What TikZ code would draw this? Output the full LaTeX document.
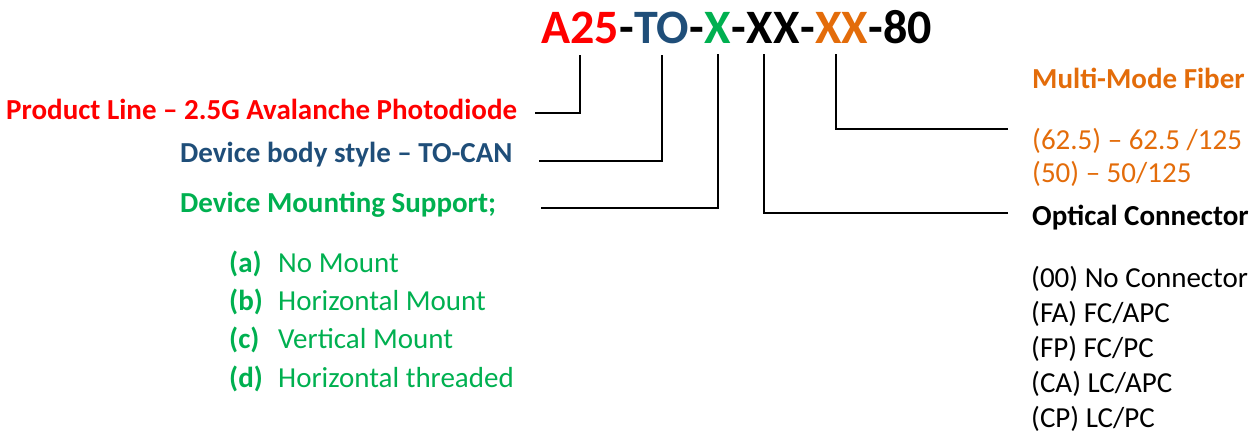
\documentclass[tikz,border=0pt]{standalone}
\usepackage{fontspec}
\setmainfont{Carlito}
\usepackage{xcolor}
\usepackage{tikz}
\usetikzlibrary{positioning}
\definecolor{codered}{HTML}{FF0000}
\definecolor{codeblue}{HTML}{1F4E79}
\definecolor{codegreen}{HTML}{00B050}
\definecolor{codeorange}{HTML}{E36C0A}
\newcommand{\lblsize}{\fontsize{29}{35}\selectfont}

\begin{document}
\begin{tikzpicture}[x=1pt,y=-1pt,
    seg/.style={inner sep=0pt,font=\fontsize{48}{56}\selectfont\bfseries},
    lbl/.style={inner sep=0pt,anchor=base west,font=\lblsize},
    lead/.style={line width=1.8pt,shorten >=11pt}]
  \useasboundingbox (0,0) rectangle (1257,439);
  % part number, one node per field
  \node[seg,anchor=base west,text=codered] (cA) at (541,43) {A25};
  \node[seg,base right=0pt of cA] (d1) {-};
  \node[seg,base right=0pt of d1,text=codeblue] (cTO) {TO};
  \node[seg,base right=0pt of cTO] (d2) {-};
  \node[seg,base right=0pt of d2,text=codegreen] (cX) {X};
  \node[seg,base right=0pt of cX] (d3) {-};
  \node[seg,base right=0pt of d3] (cXX) {XX};
  \node[seg,base right=0pt of cXX] (d4) {-};
  \node[seg,base right=0pt of d4,text=codeorange] (cFib) {XX};
  \node[seg,base right=0pt of cFib] (d5) {-};
  \node[seg,base right=0pt of d5] (c80) {80};
  % left side
  \node[lbl,text=codered,font=\lblsize\bfseries] (pl) at (6,119)
    {Product Line – 2.5G Avalanche Photodiode};
  \node[lbl,text=codeblue,font=\lblsize\bfseries] (body) at (180,162)
    {Device body style – TO-CAN};
  \node[lbl,text=codegreen,font=\lblsize\bfseries] (mnt) at (180,212)
    {Device Mounting Support;};
  \node[lbl,text=codegreen] (mtA) at (229,272) {\makebox[49pt][l]{\bfseries(a)}No Mount};
  \node[lbl,text=codegreen] (mtB) at (229,310) {\makebox[49pt][l]{\bfseries(b)}Horizontal Mount};
  \node[lbl,text=codegreen] (mtC) at (229,348) {\makebox[49pt][l]{\bfseries(c)}Vertical Mount};
  \node[lbl,text=codegreen] (mtD) at (229,387) {\makebox[49pt][l]{\bfseries(d)}Horizontal threaded};
  % right side
  \node[lbl,text=codeorange,font=\lblsize\bfseries] (fib) at (1032,88) {Multi-Mode Fiber};
  \node[lbl,text=codeorange] (fibA) at (1032,149) {(62.5) – 62.5 /125};
  \node[lbl,text=codeorange] (fibB) at (1032,182) {(50) – 50/125};
  \node[lbl,font=\lblsize\bfseries] (con) at (1032,225) {Optical Connector};
  \node[lbl] (conA) at (1031,287) {(00) No Connector};
  \node[lbl] (conB) at (1031,322) {(FA) FC/APC};
  \node[lbl] (conC) at (1031,357) {(FP) FC/PC};
  \node[lbl] (conD) at (1031,392) {(CA) LC/APC};
  \node[lbl] (conE) at (1031,427) {(CP) LC/PC};
  % leader lines
  \coordinate (plEnd) at (535,113);
  \coordinate (bodyEnd) at (539,161);
  \coordinate (mntEnd) at (541,208);
  \coordinate (fibEnd) at (1008,129);
  \coordinate (conEnd) at (1008,213);
  \draw[lead] (plEnd) -| (cA.south);
  \draw[lead] (bodyEnd) -| (cTO.south);
  \draw[lead] (mntEnd) -| (cX.south);
  \draw[lead] (conEnd) -| ([xshift=-9pt]cXX.south);
  \draw[lead] (fibEnd) -| ([xshift=-6pt]cFib.south);
\end{tikzpicture}
\end{document}
